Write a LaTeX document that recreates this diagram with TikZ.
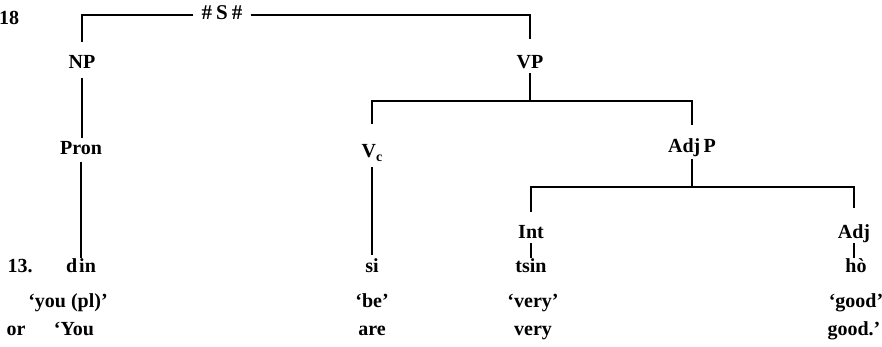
\documentclass[tikz,border=0pt]{standalone}
\usepackage{fontspec}
\setmainfont{Liberation Serif}
\begin{document}
\begin{tikzpicture}[x=1pt,y=-1pt,
  lbl/.style={inner sep=0pt, text height=13pt, text depth=4pt, anchor=base,
    font=\fontsize{20}{23}\selectfont\bfseries},
  br/.style={line width=1.6pt, line cap=butt}]
\useasboundingbox (0,0) rectangle (882,347);
% labels
\node[lbl, anchor=base west] (n18) at (-1,25) {18};
\node[lbl, inner xsep=8pt] (S) at (222,19.5) {\fontsize{21}{23}\selectfont\#\kern4pt S\kern4pt\#};
\node[lbl] (NP) at (82,69) {NP};
\node[lbl] (VP) at (530,69) {VP};
\node[lbl] (Pron) at (81,155) {Pron};
\node[lbl] (Vc) at (372,158) {V\raisebox{-4pt}{\fontsize{14}{14}\selectfont c}};
\node[lbl] (AdjP) at (692,153) {Adj\,P};
\node[lbl] (Int) at (531,238) {Int};
\node[lbl] (Adj) at (854,238) {Adj};
% words
\node[lbl] (n13) at (20,272) {13.};
\node[lbl] (din) at (81,272) {d\kern2pt in};
\node[lbl] (si) at (372,272) {si};
\node[lbl] (tsin) at (531,272) {tsin};
\node[lbl] (ho) at (856,272) {hò};
% glosses
\node[lbl] (g1) at (68,307) {‘you (pl)’};
\node[lbl] (g2) at (372,307) {‘be’};
\node[lbl] (g3) at (533,307) {‘very’};
\node[lbl] (g4) at (856,307) {‘good’};
% translation
\node[lbl] (or) at (16,335) {or};
\node[lbl] (t1) at (74,335) {‘You};
\node[lbl] (t2) at (372,335) {are};
\node[lbl] (t3) at (533,335) {very};
\node[lbl] (t4) at (854,335) {good.’};
% bar coordinates
\coordinate (vpbar) at (530,101);
\coordinate (apbar) at (692,187);
% connectors
\draw[br, shorten >=14pt] (S.west) -| (NP);
\draw[br, shorten >=17pt] (S.east) -| (VP);
\draw[br, shorten <=5pt, shorten >=4pt] (NP) -- (NP |- Pron.north);
\draw[br, shorten <=3pt, shorten >=1pt] (Pron) -- (din);
\draw[br] (VP) -- (vpbar);
\draw[br, shorten <=21pt, shorten >=15pt] (Vc) |- (vpbar) -| (AdjP);
\draw[br, shorten <=5pt, shorten >=4pt] (Vc) -- (si);
\draw[br, shorten <=2pt] (AdjP) -- (apbar);
\draw[br, shorten <=13pt, shorten >=17pt] (Int) |- (apbar) -| (Adj);
\draw[br, shorten <=1pt, shorten >=1pt] (Int) -- (tsin);
\draw[br, shorten <=1pt, shorten >=1pt] (Adj) -- (Adj |- ho.north);
\end{tikzpicture}
\end{document}
